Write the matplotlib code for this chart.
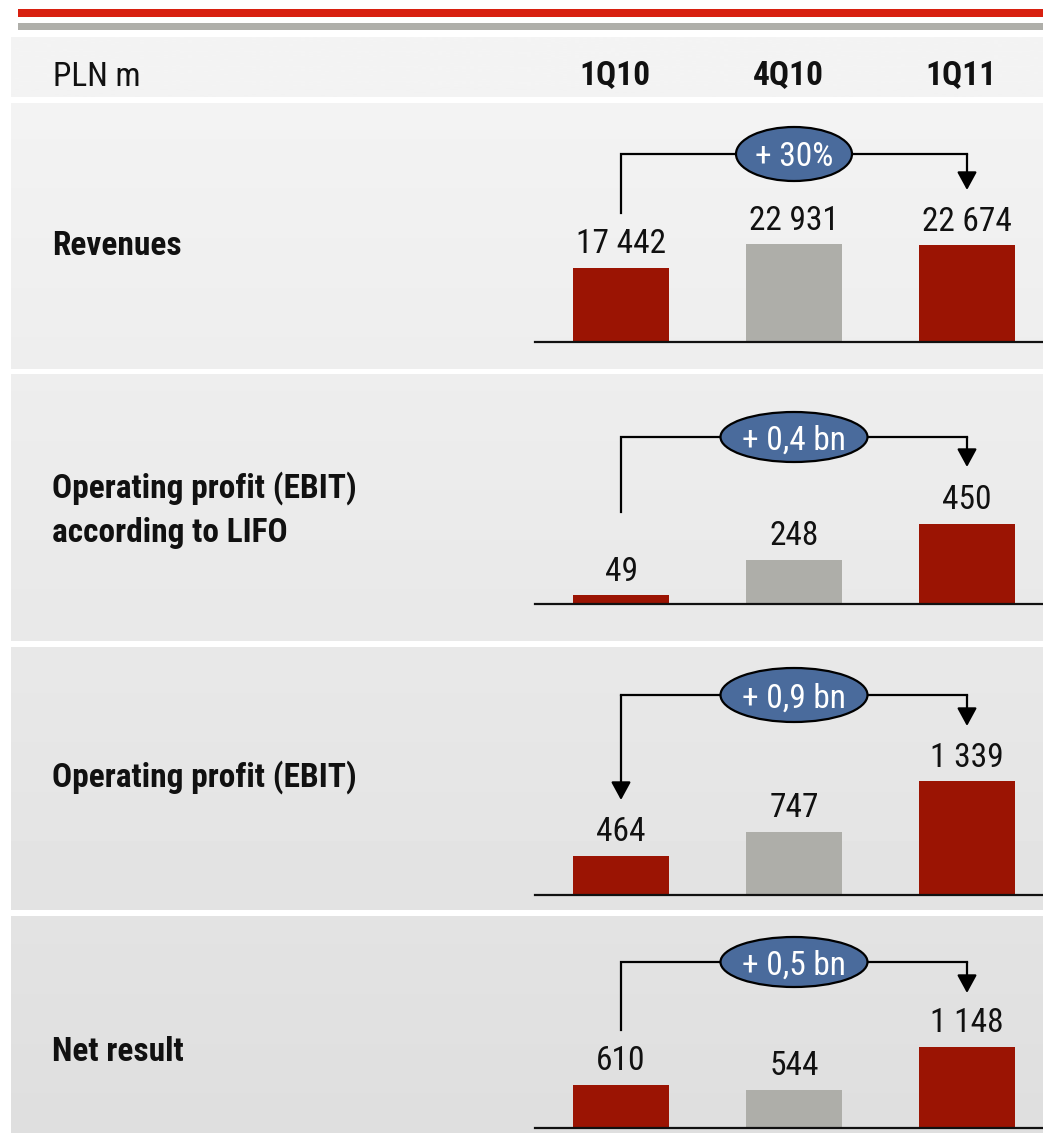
import matplotlib
matplotlib.use('Agg')
import matplotlib.pyplot as plt
import numpy as np
from matplotlib import font_manager as fm
from matplotlib.patches import Ellipse, FancyArrowPatch, Rectangle

# ---------------- data ----------------
periods = ['1Q10', '4Q10', '1Q11']
unit_label = 'PLN m'
metric_labels = ['Revenues', 'Operating profit (EBIT)\naccording to LIFO',
                 'Operating profit (EBIT)', 'Net result']
revenues = [17442, 22931, 22674]
ebit_lifo = [49, 248, 450]
ebit = [464, 747, 1339]
net_result = [610, 544, 1148]
changes = ['+ 30%', '+ 0,4 bn', '+ 0,9 bn', '+ 0,5 bn']
series = [revenues, ebit_lifo, ebit, net_result]

# ---------------- fonts ----------------
_fonts = {}
for f in fm.fontManager.ttflist:
    w = f.weight if isinstance(f.weight, int) else {'normal': 400, 'regular': 400, 'bold': 700}.get(f.weight, 400)
    if f.style == 'normal':
        _fonts.setdefault(f.name, set()).add(w)

def pick(prefs, need):
    for n in prefs:
        if n in _fonts and any(abs(w - need) <= 100 for w in _fonts[n]):
            return n
    return 'Liberation Sans'

PREFS = ['Liberation Sans Narrow', 'Arial Narrow', 'Roboto Condensed', 'Archivo Narrow',
         'PT Sans Narrow', 'Barlow Semi Condensed', 'Asap Condensed']
REG = [pick(PREFS, 400), 'DejaVu Sans']
BOLD = [pick(PREFS, 700), 'DejaVu Sans']

# ---------------- style ----------------
W, H = 1043, 1133
DPI = 100
BAR_COLORS = ['#9b1403', '#aeaea9', '#9b1403']
ELL_COLOR = '#4a6b9c'

panels = [
    dict(top=103, bottom=369, base=342, scale=0.00426, br=154, lstart=213, larrow=False,
         rtip=190, ew=116, eh=54, lines_y=[255]),
    dict(top=374, bottom=641, base=604, scale=0.178, br=437, lstart=512, larrow=False,
         rtip=467, ew=147, eh=50, lines_y=[498, 542]),
    dict(top=647, bottom=910, base=895, scale=0.0848, br=695, lstart=800, larrow=True,
         rtip=726, ew=147, eh=54, lines_y=[787]),
    dict(top=916, bottom=1133, base=1128, scale=0.0706, br=962, lstart=1030, larrow=False,
         rtip=993, ew=147, eh=50, lines_y=[1061]),
]
X0, SP = 621, 173
AX_L, AX_R = 535, 1043

fig = plt.figure(figsize=(W / DPI, H / DPI), dpi=DPI)
fig.patch.set_facecolor('white')
bg = fig.add_axes([0, 0, 1, 1], zorder=0)
bg.axis('off')

def shade(y):
    return 0.957 - (0.957 - 0.872) * (y - 37) / (1133 - 37)

def grad_rect(x0, x1, y0, y1):
    vals = np.linspace(shade(y0), shade(y1), 64).reshape(-1, 1)
    bg.imshow(vals, cmap='gray', vmin=0, vmax=1, extent=(x0, x1, y1, y0),
              aspect='auto', interpolation='bilinear', zorder=0)

bg.add_patch(Rectangle((18, 9), W - 18, 8, color='#d82010', lw=0, zorder=1))
bg.add_patch(Rectangle((18, 23), W - 18, 7, color='#afafaa', lw=0, zorder=1))
grad_rect(11, W, 37, 97)
for p in panels:
    grad_rect(11, W, p['top'], p['bottom'])
bg.set_xlim(0, W)
bg.set_ylim(H, 0)

FS = 24
bg.text(53, 86, unit_label, fontsize=FS, family=REG, va='baseline', ha='left', color='#111111')
for i, per in enumerate(periods):
    bg.text(X0 + i * SP - 6, 84, per, fontsize=FS, fontweight='bold', family=BOLD,
            va='baseline', ha='center', color='#111111')

for k, p in enumerate(panels):
    vals = series[k]
    for j, line in enumerate(metric_labels[k].split('\n')):
        bg.text(52, p['lines_y'][j], line, fontsize=FS, fontweight='bold', family=BOLD,
                va='baseline', ha='left', color='#111111')

    hpx = p['base'] - p['top']
    ax = fig.add_axes([AX_L / W, 1 - p['base'] / H, (AX_R - AX_L) / W, hpx / H], zorder=2)
    ax.patch.set_alpha(0)
    ax.set_xlim((AX_L - X0) / SP, (AX_R - X0) / SP)
    ax.set_ylim(0, hpx / p['scale'])
    for s in ['top', 'right', 'left']:
        ax.spines[s].set_visible(False)
    ax.spines['bottom'].set_linewidth(1.6)
    ax.spines['bottom'].set_color('#111111')
    ax.set_xticks([])
    ax.set_yticks([])
    x = np.arange(len(vals))
    ax.bar(x, vals, width=96 / SP, color=BAR_COLORS, zorder=2)
    for xi, v in zip(x, vals):
        ax.annotate(f'{v:,}'.replace(',', ' '), (xi, v), xytext=(0, 10.5),
                    textcoords='offset points', ha='center', va='baseline',
                    fontsize=FS, family=REG, color='#111111')

    def yd(ypx):
        return (p['base'] - ypx) / p['scale']

    ystart = yd(p['br']) if p['larrow'] else yd(p['lstart'])
    ax.plot([0, 0, 2], [ystart, yd(p['br']), yd(p['br'])],
            color='black', lw=1.6, solid_joinstyle='miter', clip_on=False, zorder=3)
    style = '-|>,head_length=0.55,head_width=0.3'
    if p['larrow']:
        ax.add_patch(FancyArrowPatch((0, yd(p['br'])), (0, yd(p['lstart'])), arrowstyle=style,
                                     mutation_scale=20, lw=1.6, color='black',
                                     shrinkA=0, shrinkB=0, clip_on=False, zorder=3))
    ax.add_patch(FancyArrowPatch((2, yd(p['br'])), (2, yd(p['rtip'])), arrowstyle=style,
                                 mutation_scale=20, lw=1.6, color='black',
                                 shrinkA=0, shrinkB=0, clip_on=False, zorder=3))
    ax.add_patch(Ellipse((1.0, yd(p['br'])), p['ew'] / SP, p['eh'] / p['scale'],
                         facecolor=ELL_COLOR, edgecolor='black', lw=1.6,
                         clip_on=False, zorder=4))
    ax.text(1.0, yd(p['br']), changes[k], ha='center', va='center_baseline',
            fontsize=FS, family=REG, color='white', zorder=5)

fig.savefig('out.png', dpi=DPI)
